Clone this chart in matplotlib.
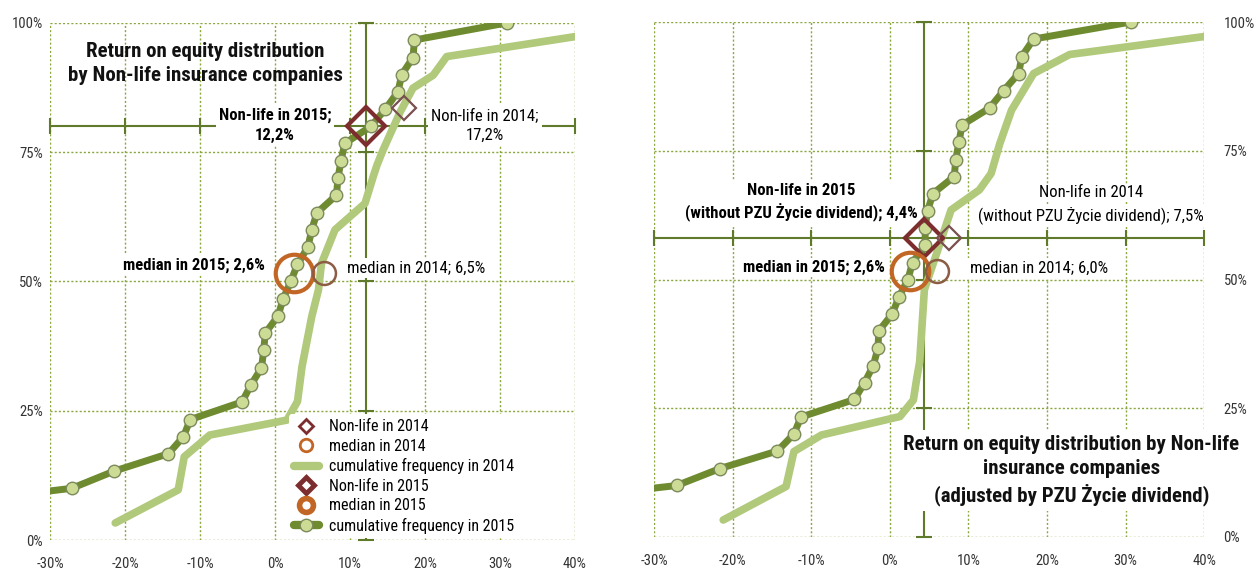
import numpy as np
import matplotlib
matplotlib.use("Agg")
import matplotlib.pyplot as plt
from matplotlib.lines import Line2D

# ---- data ----
freq_2015 = [3.3, 6.7, 10.0, 13.3, 16.7, 20.0, 23.3, 26.7, 30.0, 33.3, 36.7, 40.0, 43.3, 46.7, 50.0,
             53.3, 56.7, 60.0, 63.3, 66.7, 70.0, 73.3, 76.7, 80.0, 83.3, 86.7, 90.0, 93.3, 96.7, 100.0]
roe_2015 = [-60.0, -46.0, -27.1, -21.5, -14.2, -12.2, -11.3, -4.4, -3.2, -1.8, -1.5, -1.3, 0.4, 1.1, 2.1,
            3.0, 4.4, 4.9, 5.6, 8.2, 8.4, 8.8, 9.3, 12.8, 14.7, 16.4, 16.9, 18.4, 18.6, 30.9]
roe_2015_adj = [-60.0, -46.0, -27.1, -21.6, -14.3, -12.2, -11.3, -4.5, -3.2, -2.1, -1.5, -1.4, 0.3, 1.2, 2.3,
                2.9, 4.5, 4.5, 4.8, 5.5, 8.2, 8.4, 8.8, 9.2, 12.7, 14.5, 16.4, 16.8, 18.3, 30.7]

roe_2014 = [-21.3, -12.9, -12.1, -8.7, 1.6, 3.0, 3.6, 4.9, 5.8, 6.2, 8.0, 12.0, 13.1, 13.6, 14.4,
            15.3, 16.7, 18.4, 21.1, 22.9, 40.2]
freq_2014 = [3.3, 9.7, 16.1, 20.3, 23.2, 26.8, 33.5, 43.2, 48.4, 53.5, 60.0, 65.1, 70.3, 72.5, 75.4,
             78.3, 82.8, 87.4, 89.9, 93.5, 97.4]
roe_2014_adj = [-21.2, -13.2, -12.2, -8.7, 1.3, 3.0, 3.4, 3.8, 4.4, 5.1, 6.1, 7.8, 11.4, 12.9, 14.0,
                15.5, 18.3, 22.9, 40.1]
freq_2014_adj = [3.3, 9.8, 16.6, 19.8, 23.4, 26.6, 30.5, 34.0, 48.0, 51.2, 55.7, 63.5, 67.4, 70.6, 76.4,
                 82.9, 90.0, 93.7, 97.2]

# sector values (roe, freq) and medians
sector_2015 = (12.2, 80.0)
sector_2014 = (17.2, 83.5)
sector_2015_adj = (4.4, 58.0)
sector_2014_adj = (7.5, 58.0)
median_2015, median_2014, median_2014_adj = 2.6, 6.5, 6.0
median_y = 51.7

x_ticks = [-30, -20, -10, 0, 10, 20, 30, 40]
y_ticks = [0, 25, 50, 75, 100]

DARK = '#6e8b30'
LIGHT = '#b0c97b'
DOT = '#cddc95'
RED = '#7d2d2d'
RED_L = '#7a5050'
ORANGE = '#c26626'
BROWN = '#8c5c44'
GRID = '#8aa83f'
CROSS = '#5f7a2a'

plt.rcParams['font.family'] = ['Roboto Condensed', 'Roboto', 'DejaVu Sans']

fig = plt.figure(figsize=(12.59, 5.72), dpi=100)
ax1 = fig.add_axes([0.0397, 0.0559, 0.417, 0.904])
ax2 = fig.add_axes([0.5195, 0.0612, 0.4369, 0.9003])


def base(ax, cross_x, cross_y, right=False):
    ax.set_xlim(-30, 40)
    ax.set_ylim(0, 100)
    for s in ax.spines.values():
        s.set_visible(False)
    for v in x_ticks:
        ax.axvline(v, color=GRID, lw=1, ls=(0, (1.5, 1.5)), zorder=0)
    for v in y_ticks:
        ax.axhline(v, color=GRID, lw=1, ls=(0, (1.5, 1.5)), zorder=0)
    ax.set_xticks(x_ticks)
    ax.set_xticklabels([f'{v}%' for v in x_ticks])
    ax.set_yticks(y_ticks)
    ax.set_yticklabels([f'{v}%' for v in y_ticks])
    ax.tick_params(length=0, labelsize=10.5, colors='#333333')
    ax.tick_params(axis='x', pad=12)
    if right:
        ax.yaxis.tick_right()
        ax.tick_params(axis='y', pad=14)
    else:
        ax.tick_params(axis='y', pad=5)
    # crosshair
    ax.plot([cross_x, cross_x], [0, 100], color=CROSS, lw=1.5, zorder=1)
    ax.plot([-30, 40], [cross_y, cross_y], color=CROSS, lw=1.5, zorder=1)
    ax.plot([cross_x] * len(y_ticks), y_ticks, ls='none', marker='_', ms=12, mew=1.5, color=CROSS, zorder=1,
            clip_on=False)
    ax.plot(x_ticks, [cross_y] * len(x_ticks), ls='none', marker='|', ms=12, mew=1.5, color=CROSS, zorder=1,
            clip_on=False)


def curves(ax, x14, y14, x15, y15):
    ax.plot(x14, y14, color=LIGHT, lw=5.5, solid_capstyle='round', solid_joinstyle='round', zorder=3)
    ax.plot(x15, y15, color=DARK, lw=5, solid_joinstyle='round', zorder=4,
            marker='o', ms=9, mfc=DOT, mec='#7c8a5c', mew=1)


def points(ax, s14, s15, m14, m15):
    ax.plot(*s15, marker='D', ms=19, mfc='none', mec=RED, mew=3, zorder=6)
    ax.plot(*s14, marker='D', ms=12, mfc='none', mec=RED_L, mew=1.6, zorder=6)
    ax.plot(m15, median_y, marker='o', ms=27, mfc='none', mec=ORANGE, mew=3, zorder=6)
    ax.plot(m14, median_y, marker='o', ms=16.5, mfc='none', mec=BROWN, mew=1.8, zorder=6)


white = dict(facecolor='white', edgecolor='none', pad=2)
FS = 12

# ---- left panel ----
base(ax1, sector_2015[0], sector_2015[1])
curves(ax1, roe_2014, freq_2014, roe_2015, freq_2015)
points(ax1, sector_2014, sector_2015, median_2014, median_2015)

ax1.text(-9.3, 92.2, 'Return on equity distribution\nby Non-life insurance companies', ha='center', va='center',
         fontsize=15, fontweight='bold', linespacing=1.3, color='#111111', zorder=7)
ax1.text(0.0, 80.2, 'Non-life in 2015;\n12,2%', ha='center', va='center', fontsize=FS, fontweight='bold',
         linespacing=1.35, bbox=white, zorder=5)
ax1.text(28.0, 80.2, 'Non-life in 2014;\n17,2%', ha='center', va='center', fontsize=FS,
         linespacing=1.35, bbox=white, zorder=5)
ax1.text(-1.4, 53.2, 'median in 2015; 2,6%', ha='right', va='center', fontsize=FS, fontweight='bold',
         bbox=white, zorder=5)
ax1.text(9.6, 52.6, 'median in 2014; 6,5%', ha='left', va='center', fontsize=FS, bbox=white, zorder=5)

handles = [
    Line2D([], [], ls='none', marker='D', ms=7, mfc='none', mec=RED, mew=2),
    Line2D([], [], ls='none', marker='o', ms=9, mfc='none', mec=ORANGE, mew=2),
    Line2D([], [], color=LIGHT, lw=6, solid_capstyle='round'),
    Line2D([], [], ls='none', marker='D', ms=8, mfc='white', mec=RED, mew=3.5),
    Line2D([], [], ls='none', marker='o', ms=10, mfc='white', mec=ORANGE, mew=4),
    Line2D([], [], color=DARK, lw=6, marker='o', ms=9, mfc=DOT, mec='#7c8a5c', solid_capstyle='round'),
]
labels = ['Non-life in 2014', 'median in 2014', 'cumulative frequency in 2014',
          'Non-life in 2015', 'median in 2015', 'cumulative frequency in 2015']
leg = ax1.legend(handles, labels, loc='lower left', bbox_to_anchor=(0.455, 0.003), fontsize=11.5,
                 frameon=True, framealpha=1, edgecolor='none', facecolor='white', handlelength=1.6,
                 handletextpad=0.6, labelspacing=0.28, borderpad=0.3, borderaxespad=0)
leg.set_zorder(8)

# ---- right panel ----
base(ax2, sector_2015_adj[0], sector_2015_adj[1], right=True)
curves(ax2, roe_2014_adj, freq_2014_adj, roe_2015_adj, freq_2015)
points(ax2, sector_2014_adj, sector_2015_adj, median_2014_adj, median_2015)

ax2.text(-11.3, 64.9, 'Non-life in 2015\n(without PZU Życie dividend); 4,4%', ha='center', va='center',
         fontsize=FS, fontweight='bold', linespacing=1.35, bbox=white, zorder=5)
ax2.text(25.6, 66.8, 'Non-life in 2014', ha='center', va='center',
         fontsize=FS, bbox=dict(facecolor='white', edgecolor='none', pad=1), zorder=5)
ax2.text(25.6, 62.6, '(without PZU Życie dividend); 7,5%', ha='center', va='center',
         fontsize=FS, bbox=dict(facecolor='white', edgecolor='none', pad=1), zorder=5)
ax2.text(-0.6, 52.4, 'median in 2015; 2,6%', ha='right', va='center', fontsize=FS, fontweight='bold',
         bbox=dict(facecolor='white', edgecolor='none', pad=1), zorder=5)
ax2.text(10.2, 52.2, 'median in 2014; 6,0%', ha='left', va='center', fontsize=FS, bbox=white, zorder=5)
ax2.text(23.1, 12.9, 'Return on equity distribution by Non-life\ninsurance companies\n(adjusted by PZU Życie dividend)',
         ha='center', va='center', fontsize=15, fontweight='bold', linespacing=1.3, color='#111111',
         bbox=dict(facecolor='white', edgecolor='none', pad=4), zorder=7)

fig.savefig('out.png', dpi=100)
